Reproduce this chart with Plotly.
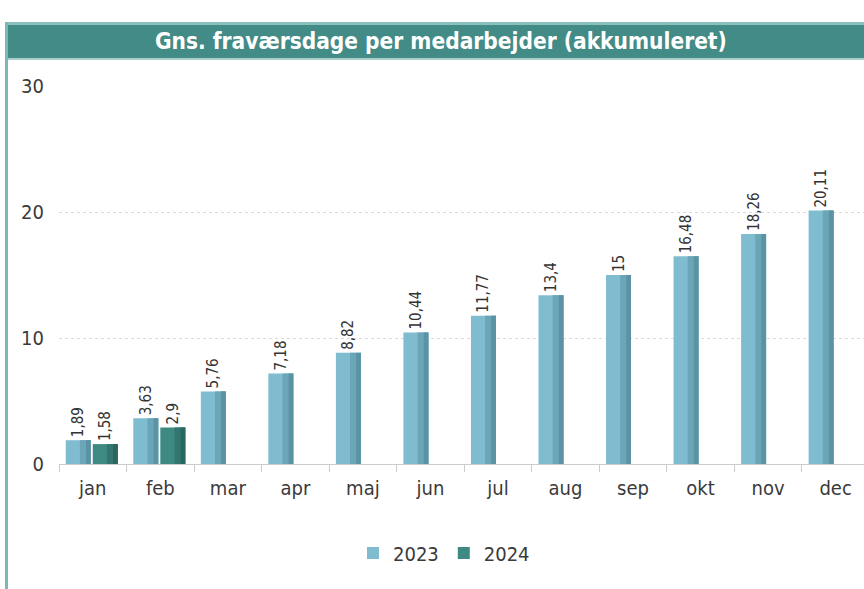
import plotly.graph_objects as go

months = ["jan", "feb", "mar", "apr", "maj", "jun", "jul", "aug", "sep", "okt", "nov", "dec"]
y2023 = [1.89, 3.63, 5.76, 7.18, 8.82, 10.44, 11.77, 13.4, 15, 16.48, 18.26, 20.11]
months2024 = ["jan", "feb"]
y2024 = [1.58, 2.9]

title_text = "Gns. fraværsdage per medarbejder (akkumuleret)"

W, H = 864, 589
ML, MR, MT, MB = 59, 0, 86, 125
PW = W - ML - MR
PH = H - MT - MB

FONT = "DejaVu Sans Condensed, DejaVu Sans, sans-serif"

def px_x(x):
    return (x - ML) / PW

def px_y(y):
    return (H - MB - y) / PH

c23 = "#7fbccf"
c23d = "#6aa5b8"
c23dd = "#5b93a5"
c24 = "#3e8a83"
c24d = "#32766f"
c24dd = "#2a6761"

fig = go.Figure()

label_font = dict(family=FONT, size=15, color="#333333")

fig.add_trace(go.Bar(
    x=months, y=y2023, name="2023", marker=dict(color=c23, line=dict(width=0)),
    offset=-0.40, width=0.37,
    text=y2023, texttemplate="%{y}", textposition="outside", textangle=-90,
    constraintext="none", textfont=label_font, cliponaxis=False, hoverinfo="x+y"))
fig.add_trace(go.Bar(
    x=months2024, y=y2024, name="2024", marker=dict(color=c24, line=dict(width=0)),
    offset=0.0, width=0.37,
    text=y2024, texttemplate="%{y}", textposition="outside", textangle=-90,
    constraintext="none", textfont=label_font, cliponaxis=False, hoverinfo="x+y"))

# shading strips (cylinder look)
fig.add_trace(go.Bar(x=months, y=y2023, marker=dict(color=c23d, line=dict(width=0)),
                     offset=-0.19, width=0.16, showlegend=False, hoverinfo="skip"))
fig.add_trace(go.Bar(x=months, y=y2023, marker=dict(color=c23dd, line=dict(width=0)),
                     offset=-0.10, width=0.07, showlegend=False, hoverinfo="skip"))
fig.add_trace(go.Bar(x=months2024, y=y2024, marker=dict(color=c24d, line=dict(width=0)),
                     offset=0.21, width=0.16, showlegend=False, hoverinfo="skip"))
fig.add_trace(go.Bar(x=months2024, y=y2024, marker=dict(color=c24dd, line=dict(width=0)),
                     offset=0.30, width=0.07, showlegend=False, hoverinfo="skip"))

shapes = [
    dict(type="rect", xref="paper", yref="paper", x0=px_x(7), x1=px_x(870), y0=px_y(59), y1=px_y(22),
         fillcolor="#428b86", line=dict(width=0), layer="above"),
    dict(type="rect", xref="paper", yref="paper", x0=px_x(7), x1=px_x(870), y0=px_y(25), y1=px_y(22),
         fillcolor="#8cc0bd", line=dict(width=0), layer="above"),
    dict(type="rect", xref="paper", yref="paper", x0=px_x(7), x1=px_x(870), y0=px_y(60), y1=px_y(58),
         fillcolor="#a9d0cd", line=dict(width=0), layer="above"),
    dict(type="rect", xref="paper", yref="paper", x0=px_x(5), x1=px_x(8), y0=px_y(589), y1=px_y(22),
         fillcolor="#7fb7b4", line=dict(width=0), layer="above"),
]

fig.update_layout(
    width=W, height=H,
    margin=dict(l=ML, r=MR, t=MT, b=MB, pad=0),
    paper_bgcolor="white", plot_bgcolor="white",
    barmode="overlay",
    separators=",.",
    showlegend=True,
    legend=dict(orientation="h", x=px_x(444), xanchor="center", y=px_y(553), yanchor="middle",
                font=dict(family=FONT, size=20, color="#3a3a3a"),
                itemwidth=30, traceorder="normal"),
    shapes=shapes,
    annotations=[dict(text="<b>" + title_text + "</b>", xref="paper", yref="paper",
                      x=px_x(441), y=px_y(41), xanchor="center", yanchor="middle", showarrow=False,
                      font=dict(family=FONT, size=22.5, color="white"))],
    xaxis=dict(type="category", categoryorder="array", categoryarray=months,
               range=[-0.5, 11.42], tickson="boundaries", ticks="outside", ticklen=7,
               tickcolor="#cccccc", showline=True, linecolor="#cccccc", linewidth=1,
               showgrid=False, fixedrange=True, ticklabelstandoff=6,
               tickfont=dict(family=FONT, size=20, color="#3a3a3a")),
    yaxis=dict(range=[0, 30], tickvals=[0, 10, 20, 30], showgrid=True, gridcolor="#d9d9d9",
               griddash="3px,3px", gridwidth=1, zeroline=False, showline=False, ticks="",
               ticklabelstandoff=14, fixedrange=True,
               tickfont=dict(family=FONT, size=20, color="#3a3a3a")),
)

fig.write_html("out.html", config={"displayModeBar": False},
               post_script="document.body.style.margin='0';document.body.style.overflow='hidden';")
